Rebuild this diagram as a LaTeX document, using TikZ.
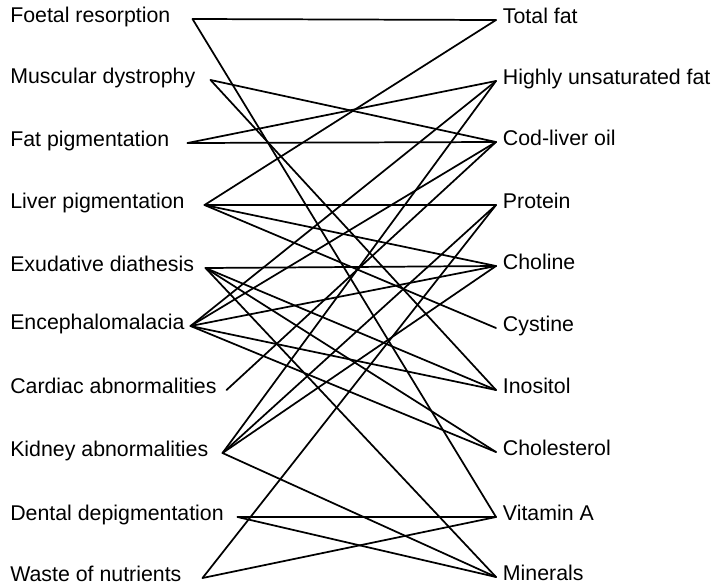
\documentclass[tikz,border=0pt]{standalone}
\usepackage{fontspec}
\setmainfont{Liberation Sans}
\newlength{\pxu}\setlength{\pxu}{0.75pt}
\newcommand{\lbox}[2]{\makebox[#1\pxu][l]{#2}}
\begin{document}
\begin{tikzpicture}[x=0.75pt,y=-0.75pt,
  lab/.style={font=\fontsize{16}{19}\selectfont, inner sep=0pt, anchor=mid west},
  rlab/.style={lab, inner xsep=5pt},
  link/.style={line width=1.3pt, line join=round, line cap=round}]
\useasboundingbox (0,0) rectangle (721,586);
% left column
\node[lab] (foetal)   at (10,19)  {\lbox{182}{Foetal resorption}};
\node[lab] (muscular) at (10,80)  {\lbox{200}{Muscular dystrophy}};
\node[lab] (fat)      at (10,143) {\lbox{177}{Fat pigmentation}};
\node[lab] (liver)    at (10,205) {\lbox{194}{Liver pigmentation}};
\node[lab] (exud)     at (10,268) {\lbox{195}{Exudative diathesis}};
\node[lab] (ence)     at (10,326) {\lbox{180}{Encephalomalacia}};
\node[lab] (cardiac)  at (10,390) {\lbox{216}{Cardiac abnormalities}};
\node[lab] (kidney)   at (10,453) {\lbox{212}{Kidney abnormalities}};
\node[lab] (dental)   at (10,517) {\lbox{227}{Dental depigmentation}};
\node[lab] (waste)    at (10,578) {\lbox{192}{Waste of nutrients}};
% right column
\node[rlab] (tf)   at (496,20)  {Total fat};
\node[rlab] (hu)   at (496,81)  {Highly unsaturated fat};
\node[rlab] (cod)  at (496,142) {Cod-liver oil};
\node[rlab] (prot) at (496,205) {Protein};
\node[rlab] (chol) at (496,266) {Choline};
\node[rlab] (cys)  at (496,328) {Cystine};
\node[rlab] (ino)  at (496,390) {Inositol};
\node[rlab] (chl)  at (496,452) {Cholesterol};
\node[rlab] (vita) at (496,517) {Vitamin A};
\node[rlab] (mins) at (496,577) {Minerals};
% connectors
\foreach \a/\b in {foetal/tf, foetal/vita,
                   muscular/cod, muscular/ino,
                   fat/hu, fat/cod,
                   liver/tf, liver/prot, liver/chol, liver/cys,
                   exud/chol, exud/ino, exud/chl, exud/mins,
                   ence/hu, ence/cod, ence/chol, ence/ino, ence/chl,
                   cardiac/cod,
                   kidney/hu, kidney/prot, kidney/chol, kidney/mins,
                   dental/vita, dental/mins,
                   waste/prot, waste/vita}
  \draw[link] (\a.mid east) -- (\b.mid west);
\end{tikzpicture}
\end{document}
